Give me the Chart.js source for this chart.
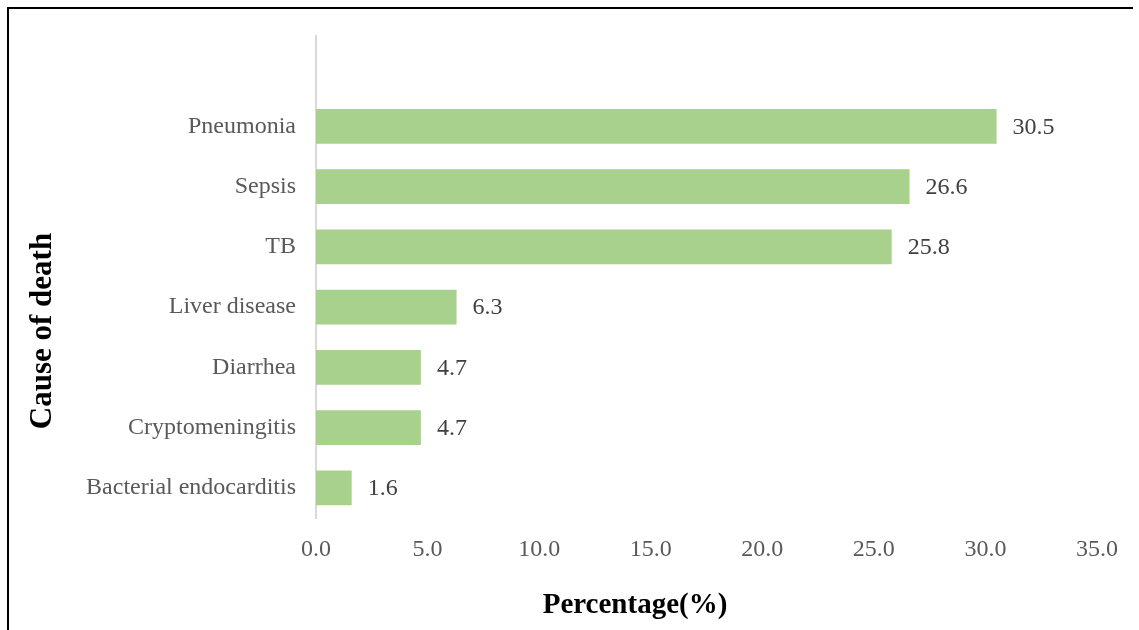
<!DOCTYPE html>
<html>
<head>
<meta charset="utf-8">
<script src="https://cdn.jsdelivr.net/npm/chart.js@4"></script>
<style>
  html, body { margin: 0; padding: 0; background: #fff; }
  #wrap { position: relative; width: 1139px; height: 630px; overflow: hidden; }
  #frame { position: absolute; left: 7px; top: 7px; width: 1126px; height: 640px;
           border-top: 2px solid #000; border-left: 2px solid #000; box-sizing: border-box; pointer-events: none; }
  canvas { position: absolute; left: 0; top: 0; }
</style>
</head>
<body>
<div id="wrap">
  <canvas id="c" width="1139" height="630"></canvas>
  <div id="frame"></div>
</div>
<script>
const categories = ['Pneumonia', 'Sepsis', 'TB', 'Liver disease', 'Diarrhea', 'Cryptomeningitis', 'Bacterial endocarditis'];
const percentages = [30.5, 26.6, 25.8, 6.3, 4.7, 4.7, 1.6];
const xTicks = [0, 5, 10, 15, 20, 25, 30, 35];
const xTitle = 'Percentage(%)';
const yTitle = 'Cause of death';

const FONT = "'Liberation Serif', 'Times New Roman', serif";

// Excel leaves one empty category slot above the top bar
const labels = [''].concat(categories);
const values = [null].concat(percentages);

const valueLabels = {
  id: 'valueLabels',
  afterDatasetsDraw(chart) {
    const ctx = chart.ctx;
    const meta = chart.getDatasetMeta(0);
    ctx.save();
    ctx.font = '24px ' + FONT;
    ctx.fillStyle = '#404040';
    ctx.textAlign = 'left';
    ctx.textBaseline = 'middle';
    meta.data.forEach((bar, i) => {
      const v = values[i];
      if (v === null) return;
      ctx.fillText(v.toFixed(1), bar.x + 16, bar.y + 1);
    });
    ctx.restore();
  }
};

const axisTitles = {
  id: 'axisTitles',
  afterDraw(chart) {
    const ctx = chart.ctx;
    const a = chart.chartArea;
    ctx.save();
    ctx.fillStyle = '#000';
    ctx.textAlign = 'center';
    ctx.textBaseline = 'middle';
    ctx.font = 'bold 29px ' + FONT;
    ctx.fillText(xTitle, a.left + 319, a.bottom + 88);
    ctx.font = 'bold 31px ' + FONT;
    ctx.translate(a.left - 273, (a.top + a.bottom) / 2 + 54);
    ctx.rotate(-Math.PI / 2);
    ctx.fillText(yTitle, 0, 0);
    ctx.restore();
  }
};

new Chart(document.getElementById('c'), {
  type: 'bar',
  data: {
    labels: labels,
    datasets: [{
      data: values,
      backgroundColor: '#A9D18E',
      borderWidth: 0,
      barPercentage: 0.58,
      categoryPercentage: 1.0
    }]
  },
  options: {
    indexAxis: 'y',
    responsive: false,
    animation: false,
    layout: { padding: { left: 0, top: 36, right: 42, bottom: 0 } },
    plugins: { legend: { display: false }, tooltip: { enabled: false } },
    scales: {
      x: {
        min: 0, max: 35,
        afterBuildTicks(scale) { scale.ticks = xTicks.map(v => ({ value: v })); },
        afterFit(scale) { scale.height = 112; },
        grid: { display: false, drawTicks: false },
        border: { display: false },
        ticks: {
          padding: 17,
          color: '#595959',
          font: { family: FONT, size: 24 },
          callback: v => Number(v).toFixed(1)
        }
      },
      y: {
        afterFit(scale) { scale.width = 316; },
        grid: { display: false, drawTicks: false },
        border: { display: true, color: '#D9D9D9', width: 2 },
        ticks: {
          padding: 20,
          color: '#595959',
          font: { family: FONT, size: 24 },
          autoSkip: false
        }
      }
    }
  },
  plugins: [valueLabels, axisTitles]
});
</script>
</body>
</html>
